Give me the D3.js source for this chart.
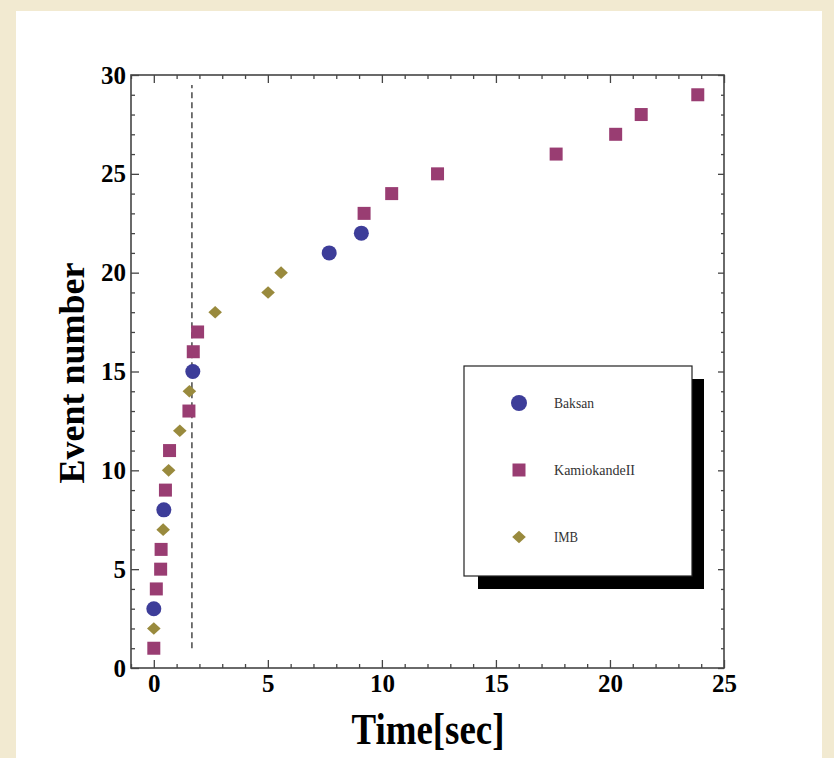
<!DOCTYPE html>
<html>
<head>
<meta charset="utf-8">
<script src="https://cdn.jsdelivr.net/npm/d3@7"></script>
<style>
  html, body { margin: 0; padding: 0; background: #f2ead1; }
  svg { display: block; }
</style>
</head>
<body>
<svg id="chart"></svg>
<script>
// event times [sec] and event numbers
var baksanTime = [0, 0.44, 1.71, 7.69, 9.10];
var baksanEvent = [3, 8, 15, 21, 22];

var kamTime = [0, 0.11, 0.30, 0.32, 0.51, 0.69, 1.54, 1.73, 1.92, 9.22, 10.43, 12.44, 17.64, 20.25, 21.37, 23.85];
var kamEvent = [1, 4, 5, 6, 9, 11, 13, 16, 17, 23, 24, 25, 26, 27, 28, 29];

var imbTime = [0, 0.41, 0.65, 1.14, 1.56, 2.69, 5.01, 5.58];
var imbEvent = [2, 7, 10, 12, 14, 18, 19, 20];

var seriesNames = ["Baksan", "KamiokandeII", "IMB"];
var seriesColors = ["#3d3d99", "#993d72", "#998a3d"];

var xMajor = [0, 5, 10, 15, 20, 25];
var yMajor = [0, 5, 10, 15, 20, 25, 30];
var dashTime = 1.67, dashFrom = 1, dashTo = 29.5;

var W = 834, H = 758;
var margin = { top: 75, right: 110, bottom: 90, left: 131 },
	width = W - margin.left - margin.right,
	height = H - margin.top - margin.bottom;

var svg = d3.select('#chart')
	.attr('width', W)
	.attr('height', H);

// white page over the parchment
svg.append('rect')
	.attr('x', 16).attr('y', 11)
	.attr('width', 806).attr('height', H - 11)
	.attr('fill', '#ffffff');

var g = svg.append('g')
	.attr('transform', 'translate(' + margin.left + ',' + margin.top + ')');

var x = d3.scaleLinear().domain([-1, 25]).range([0, width]);
var y = d3.scaleLinear().domain([0, 30]).range([height, 0]);

var xMinor = d3.range(-1, 26).filter(function(d){ return xMajor.indexOf(d) < 0; });
var yMinor = d3.range(0, 31).filter(function(d){ return yMajor.indexOf(d) < 0; });

var frameColor = '#454545';
var tickFont = '"Liberation Serif", "Times New Roman", serif';

var addAxis = function(axis, tx, ty, cls){
	var a = g.append('g')
		.attr('class', cls)
		.attr('transform', 'translate(' + tx + ',' + ty + ')')
		.call(axis);
	a.select('.domain').remove();
	a.selectAll('line').attr('stroke', frameColor).attr('stroke-width', 1.3);
	a.selectAll('text')
		.attr('fill', '#000')
		.style('font-family', tickFont)
		.style('font-weight', 'bold')
		.style('font-size', '25px');
	return a;
}

// bottom & left, labelled
addAxis(d3.axisBottom(x).tickValues(xMajor).tickSize(-8).tickPadding(6).tickFormat(d3.format('d')), 0, height, 'x_axis');
addAxis(d3.axisBottom(x).tickValues(xMinor).tickSize(-4).tickFormat(''), 0, height, 'x_minor');
addAxis(d3.axisLeft(y).tickValues(yMajor).tickSize(-8).tickPadding(5).tickFormat(d3.format('d')), 0, 0, 'y_axis');
addAxis(d3.axisLeft(y).tickValues(yMinor).tickSize(-4).tickFormat(''), 0, 0, 'y_minor');
// top & right, ticks only
addAxis(d3.axisTop(x).tickValues(xMajor).tickSize(-8).tickFormat(''), 0, 0, 'x_top');
addAxis(d3.axisTop(x).tickValues(xMinor).tickSize(-4).tickFormat(''), 0, 0, 'x_top_minor');
addAxis(d3.axisRight(y).tickValues(yMajor).tickSize(-6).tickFormat(''), width, 0, 'y_right');
addAxis(d3.axisRight(y).tickValues(yMinor).tickSize(-3).tickFormat(''), width, 0, 'y_right_minor');

g.append('rect')
	.attr('width', width).attr('height', height)
	.attr('fill', 'none')
	.attr('stroke', frameColor)
	.attr('stroke-width', 1.6);

// dashed marker line
g.append('line')
	.attr('x1', x(dashTime)).attr('x2', x(dashTime))
	.attr('y1', y(dashFrom)).attr('y2', y(dashTo))
	.attr('stroke', '#666')
	.attr('stroke-width', 1.8)
	.attr('stroke-dasharray', '6,4');

var circlePath = d3.symbol().type(d3.symbolCircle).size(Math.PI * 7.5 * 7.5)();
var squarePath = d3.symbol().type(d3.symbolSquare).size(13 * 13)();
var diamondPath = 'M-6.8,0L0,-6.3L6.8,0L0,6.3Z';
var shapes = [circlePath, squarePath, diamondPath];

var series = [
	{ t: baksanTime, n: baksanEvent },
	{ t: kamTime, n: kamEvent },
	{ t: imbTime, n: imbEvent }
];

series.forEach(function(s, i){
	var pts = s.t.map(function(t, j){ return { t: t, n: s.n[j] }; });
	g.selectAll('.pt' + i)
		.data(pts)
		.enter().append('path')
		.attr('class', 'pt' + i)
		.attr('d', shapes[i])
		.attr('transform', function(d){ return 'translate(' + x(d.t) + ',' + y(d.n) + ')'; })
		.attr('fill', seriesColors[i]);
});

// axis titles
svg.append('text')
	.attr('x', 428).attr('y', 744)
	.attr('text-anchor', 'middle')
	.attr('textLength', 153)
	.attr('lengthAdjust', 'spacingAndGlyphs')
	.style('font-family', tickFont)
	.style('font-weight', 'bold')
	.style('font-size', '44px')
	.text('Time[sec]');

svg.append('text')
	.attr('transform', 'translate(84,373) rotate(-90)')
	.attr('text-anchor', 'middle')
	.style('font-family', tickFont)
	.style('font-weight', 'bold')
	.style('font-size', '36px')
	.text('Event number');

// legend with drop shadow
var lg = svg.append('g').attr('transform', 'translate(464,366)');
lg.append('rect')
	.attr('x', 14).attr('y', 13)
	.attr('width', 226).attr('height', 210)
	.attr('fill', '#000');
lg.append('rect')
	.attr('width', 228).attr('height', 210)
	.attr('fill', '#fff')
	.attr('stroke', '#222')
	.attr('stroke-width', 1.2);

seriesNames.forEach(function(name, i){
	var row = lg.append('g').attr('transform', 'translate(55,' + (37 + i * 67) + ')');
	row.append('path')
		.attr('d', i == 0 ? d3.symbol().type(d3.symbolCircle).size(Math.PI * 64)() : shapes[i])
		.attr('fill', seriesColors[i]);
	row.append('text')
		.attr('x', 35).attr('y', 5)
		.attr('fill', '#333')
		.attr('textLength', [40, 81, 24][i])
		.attr('lengthAdjust', 'spacingAndGlyphs')
		.style('font-family', tickFont)
		.style('font-size', '15px')
		.text(name);
});
</script>
</body>
</html>
